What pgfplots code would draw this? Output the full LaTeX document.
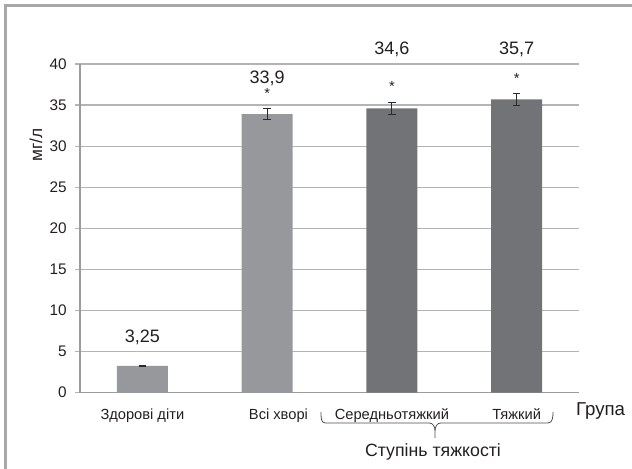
\documentclass[border=0pt]{standalone}
\usepackage{fontspec}
\setmainfont{Liberation Sans}
\usepackage{pgfplots}
\pgfplotsset{compat=1.18}
\definecolor{barlight}{HTML}{97989C}
\definecolor{bardark}{HTML}{727376}
\definecolor{gridc}{HTML}{B4B4B4}
\definecolor{axisc}{HTML}{9C9C9C}
\definecolor{framec}{HTML}{A8A8A8}
\definecolor{txt}{HTML}{231F20}
\definecolor{errc}{HTML}{2A2A2A}
\begin{document}
\begin{tikzpicture}[x=1pt,y=1pt]
\useasboundingbox (0,0) rectangle (474,351);
\draw[framec, line width=2.25pt] (4.1,-10) -- (4.1,346.9) -- (490,346.9);
\begin{axis}[
  at={(60pt,56.5pt)}, anchor=south west,
  scale only axis, width=374.25pt, height=246.5pt,
  xmin=-0.5, xmax=3.5, ymin=0, ymax=40,
  ytick={0,5,...,40},
  xtick={0,1,2,3},
  xticklabels={Здорові діти,\hspace*{17pt}Всі хворі,Середньотяжкий,Тяжкий},
  axis lines=left,
  axis line style={-, axisc, line width=1pt},
  ymajorgrids, grid style={gridc, line width=1pt},
  xtick style={draw=none},
  ytick style={gridc, line width=1pt},
  tick align=outside, major tick length=3.75pt,
  /pgf/number format/assume math mode=true,
  xticklabel style={font=\fontsize{11}{12}\selectfont, text=txt, anchor=base, yshift=-16.5pt},
  yticklabel style={font=\fontsize{11.5}{13}\selectfont, text=txt, anchor=east, inner sep=0pt, xshift=-6pt},
  clip=false,
  ybar, bar width=38.25pt, bar shift=0pt,
]
\addplot[fill=barlight, draw=none,
  error bars/.cd, y dir=both, y explicit,
  error bar style={errc, line width=0.8pt},
  error mark options={errc, line width=0.8pt, mark size=2.75pt, rotate=90}]
  table[x=x, y=y, y error=e] {
x y e
0 3.25 0.06
1 33.9 0.7
};
\addplot[fill=bardark, draw=none,
  error bars/.cd, y dir=both, y explicit,
  error bar style={errc, line width=0.8pt},
  error mark options={errc, line width=0.8pt, mark size=2.75pt, rotate=90}]
  table[x=x, y=y, y error=e] {
x y e
2 34.6 0.7
3 35.7 0.7
};
\begin{scope}[every node/.style={text=txt, anchor=base, font=\fontsize{13.5}{16}\selectfont}]
\node at (axis cs:0,6.06) {3,25};
\node at (axis cs:1,37.6) {33,9};
\node at (axis cs:2,41.2) {34,6};
\node at (axis cs:3,41.2) {35,7};
\end{scope}
\begin{scope}[every node/.style={text=txt, anchor=base, font=\fontsize{11}{12}\selectfont}]
\node at (axis cs:1,35.8) {*};
\node at (axis cs:2,36.7) {*};
\node at (axis cs:3,37.6) {*};
\end{scope}
\end{axis}
\node[rotate=90, text=txt, font=\fontsize{13}{15}\selectfont] at (27,242.25) {мг/л};
\node[text=txt, font=\fontsize{14}{16}\selectfont] at (450.4,42.75) {Група};
\draw[txt!80, line width=0.6pt] (240.75,42) to[out=-90,in=180] (244,33.75) -- (322,33.75) to[out=0,in=90] (326.25,28) -- (326.25,22.5);
\draw[txt!80, line width=0.6pt] (326.25,28) to[out=90,in=180] (330.5,33.75) -- (411,33.75) to[out=0,in=-90] (414.75,42);
\node[text=txt, font=\fontsize{13.3}{16}\selectfont] at (324.75,12) {Ступінь тяжкості};
\end{tikzpicture}
\end{document}
